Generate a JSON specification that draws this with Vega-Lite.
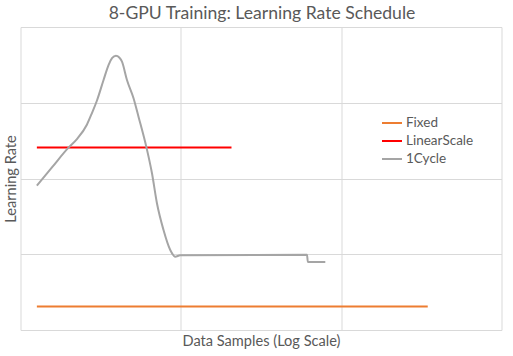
{
  "$schema": "https://vega.github.io/schema/vega-lite/v6.json",
  "width": 481,
  "height": 303,
  "autosize": {"type": "none"},
  "padding": {"left": 20.5, "top": 27, "right": 11.5, "bottom": 26},
  "background": "white",
  "config": {
    "view": {"stroke": null},
    "font": "Lato"
  },
  "title": {
    "text": "8-GPU Training: Learning Rate Schedule",
    "font": "Lato",
    "fontSize": 17.6,
    "fontWeight": "normal",
    "color": "#595959",
    "anchor": "middle",
    "dx": 1,
    "offset": 4
  },
  "data": {
    "values": [
      {"series": "Fixed", "x": 1.265, "y": 0.31},
      {"series": "Fixed", "x": 346.7, "y": 0.31},
      {"series": "LinearScale", "x": 1.265, "y": 2.41},
      {"series": "LinearScale", "x": 20.7, "y": 2.41},
      {"series": "1Cycle", "x": 1.265, "y": 1.905},
      {"series": "1Cycle", "x": 1.585, "y": 2.156},
      {"series": "1Cycle", "x": 1.991, "y": 2.407},
      {"series": "1Cycle", "x": 2.249, "y": 2.52},
      {"series": "1Cycle", "x": 2.594, "y": 2.71},
      {"series": "1Cycle", "x": 2.786, "y": 2.861},
      {"series": "1Cycle", "x": 2.999, "y": 3.03},
      {"series": "1Cycle", "x": 3.296, "y": 3.3},
      {"series": "1Cycle", "x": 3.54, "y": 3.498},
      {"series": "1Cycle", "x": 3.733, "y": 3.591},
      {"series": "1Cycle", "x": 3.936, "y": 3.621},
      {"series": "1Cycle", "x": 4.13, "y": 3.597},
      {"series": "1Cycle", "x": 4.295, "y": 3.542},
      {"series": "1Cycle", "x": 4.613, "y": 3.3},
      {"series": "1Cycle", "x": 5.07, "y": 3.059},
      {"series": "1Cycle", "x": 5.445, "y": 2.816},
      {"series": "1Cycle", "x": 6.109, "y": 2.407},
      {"series": "1Cycle", "x": 6.607, "y": 2.069},
      {"series": "1Cycle", "x": 7.096, "y": 1.673},
      {"series": "1Cycle", "x": 7.798, "y": 1.32},
      {"series": "1Cycle", "x": 8.59, "y": 1.056},
      {"series": "1Cycle", "x": 9.226, "y": 0.968},
      {"series": "1Cycle", "x": 9.908, "y": 0.986},
      {"series": "1Cycle", "x": 61.24, "y": 0.995},
      {"series": "1Cycle", "x": 61.94, "y": 0.898},
      {"series": "1Cycle", "x": 79.62, "y": 0.898}
    ]
  },
  "mark": {"type": "line", "strokeWidth": 2, "interpolate": "monotone"},
  "encoding": {
    "x": {
      "field": "x",
      "type": "quantitative",
      "scale": {"type": "log", "domain": [1, 1000], "nice": false},
      "axis": {
        "title": "Data Samples (Log Scale)",
        "values": [1, 10, 100, 1000],
        "labels": false,
        "ticks": false,
        "domain": false,
        "grid": true,
        "gridColor": "#d9d9d9",
        "gridWidth": 1,
        "titleFont": "Lato",
        "titleFontSize": 14.6,
        "titleFontWeight": "normal",
        "titleColor": "#595959",
        "titlePadding": 3
      }
    },
    "y": {
      "field": "y",
      "type": "quantitative",
      "scale": {"domain": [0, 4], "nice": false},
      "axis": {
        "title": "Learning Rate",
        "values": [0, 1, 2, 3, 4],
        "labels": false,
        "ticks": false,
        "domain": false,
        "grid": true,
        "gridColor": "#d9d9d9",
        "gridWidth": 1,
        "titleFont": "Lato",
        "titleFontSize": 14.6,
        "titleFontWeight": "normal",
        "titleColor": "#595959",
        "titlePadding": 2
      }
    },
    "color": {
      "field": "series",
      "type": "nominal",
      "scale": {
        "domain": ["Fixed", "LinearScale", "1Cycle"],
        "range": ["#ED7D31", "#FF0000", "#A5A5A5"]
      },
      "legend": {
        "title": null,
        "orient": "none",
        "legendX": 360.5,
        "legendY": 85,
        "padding": 0,
        "symbolType": "stroke",
        "symbolSize": 400,
        "symbolStrokeWidth": 2,
        "labelFont": "Lato",
        "labelFontSize": 13.5,
        "labelColor": "#595959",
        "labelOffset": 3,
        "rowPadding": 0
      }
    }
  }
}
